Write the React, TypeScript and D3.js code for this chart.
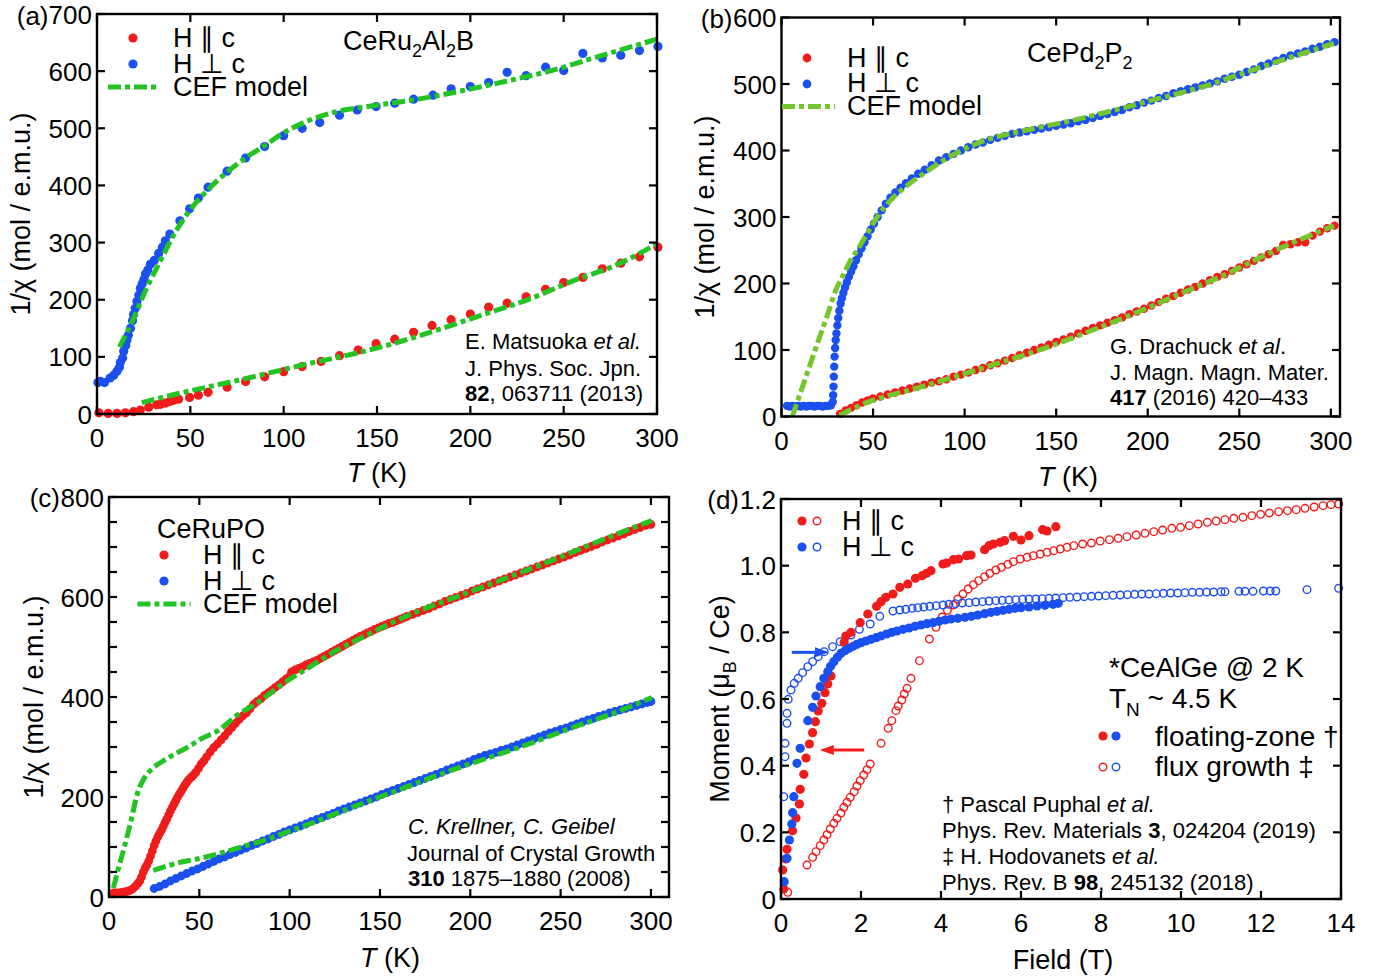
import React from 'react';
import * as d3 from 'd3';

type P = [number, number];

// ---------------- Panel (a) CeRu2Al2B ----------------
const A_PERP: P[] = [[0.5,55],[1.8,57],[4,55],[7,63],[9,68],[10.7,75],[12,82],[12.5,90],[13.7,98],[14.3,110],[15.4,120],[16,129],[16.8,138],[17.9,150],[19,163],[19.6,174],[20.5,185],[21.4,197],[22.4,208],[23.2,220],[24.2,228],[25.2,236],[26,245],[27.2,252],[28.6,262],[30.7,269],[33,281],[35,292],[36.6,303],[39,315],[44.4,338],[49.6,359],[54.3,378],[59.5,397],[69.7,425],[79.6,448],[89.8,468],[100,487],[109.9,500],[119.3,510],[129.9,523],[139.4,532],[149.5,538],[159.5,544],[169.6,551],[180,558],[189.7,569],[200,573],[209.8,580],[219.7,598],[229.9,592],[240.3,607],[250,601],[260.3,631],[270.7,623],[280.6,628],[290.6,636],[300.5,643]];
const A_PAR: P[] = [[1,2],[6,1],[10.7,1],[15.2,2],[19.6,4],[23.2,7],[27.7,12],[32,16],[34,17],[36.6,19],[39,22],[41,24],[43.7,26],[49.6,29],[54.3,33],[59.5,38],[69.7,47],[79.6,57],[89.8,65],[100,74],[109.9,83],[120,92],[129.9,102],[139.9,112],[149.5,123],[159.5,131],[169.6,143],[179.5,155],[189.7,165],[200,175],[209.8,187],[219.7,194],[229.9,205],[240.3,218],[250,230],[260.3,239],[270.7,254],[280.6,264],[290.6,275],[300.5,292]];
const A_CEF_PERP: P[] = [[12,117],[19,163],[26,216],[33,262],[42.5,321],[49.6,356],[59,391],[68.5,420],[80,449],[90,470],[99,490],[113,513],[127,528],[149,540],[172,551],[196,566],[220,583],[243.5,601],[267,624],[300,656]];
const A_CEF_PAR: P[] = [[24,20],[42.5,35],[66,52],[90,70],[113,88],[137,105],[160.6,125],[184,149],[208,175],[231.5,201],[255,233],[279,262],[300,298]];

// ---------------- Panel (b) CePd2P2 ----------------
const B_PERP: P[] = [[3,16],[4.5,15],[6,16],[7.5,15],[9,16],[10.5,15],[12,16],[13.5,15],[15,16],[16.5,16],[18,15],[19.5,16],[21,16],[22.5,15],[24,16],[25.5,16],[27,17],[28,22],[28.2,32],[28.4,45],[28.6,60],[28.8,75],[29,90],[29.3,103],[29.6,115],[30,125],[30.5,137],[31,148],[31.6,159],[32.3,170],[33,178],[33.8,186],[34.7,194],[35.7,202],[36.8,210],[38,218],[39.3,226],[40.7,235],[42.2,244],[43.7,253],[45.3,262],[47,271],[48.7,281],[50.5,290],[52.5,300],[54.7,310],[57,320],[59.5,329],[62.2,337],[65,344],[68,351],[71.2,358],[74.6,365],[78.2,371],[82,378],[86,385],[90,390],[94,395],[98,400],[102,405],[106,409],[110,412],[114,416],[118,419],[122,422],[126,425],[130,427],[134,429],[138,431],[142,433],[146,435],[150,437],[154,439],[158,441],[162,444],[166,446],[170,449],[174,452],[178,455],[182,458],[186,461],[190,465],[194,468],[198,472],[202,475],[206,479],[210,482],[214,486],[218,489],[222,492],[226,495],[230,498],[234,501],[238,504],[242,508],[246,511],[250,514],[254,518],[258,522],[262,527],[266,531],[270,535],[274,539],[278,543],[282,546],[286,549],[290,553],[294,556],[298,560],[302,563]];
const B_PAR: P[] = [[32,4],[35,9],[38,13],[41,17],[44,21],[47,24],[50,27],[54,30],[58,33],[62,36],[66,39],[70,42],[74,45],[78,48],[82,51],[86,53],[90,56],[94,60],[98,63],[102,66],[106,70],[110,73],[114,77],[118,80],[122,84],[126,88],[130,92],[134,96],[138,100],[142,104],[146,108],[150,112],[154,116],[158,120],[162,125],[166,129],[170,133],[174,137],[178,141],[182,145],[186,149],[190,154],[194,158],[198,162],[202,167],[206,172],[210,177],[214,181],[218,186],[222,191],[226,195],[230,200],[234,205],[238,210],[242,214],[246,219],[250,224],[254,229],[258,234],[262,239],[266,244],[270,249],[274,258],[278,259],[282,262],[286,262],[290,272],[294,278],[298,283],[302,287]];
const B_CEF_PERP: P[] = [[5.9,0],[10,33],[15,73],[20,113],[25,152],[29.8,191],[33.4,211],[38,236],[41.6,251],[47,276],[52.5,301],[59.8,326],[68.9,348],[78,366],[90.8,389],[108,412],[132.7,430],[157,444],[181,460],[205.7,478],[230,496],[254,518],[279,541],[301.7,561]];
const B_CEF_PAR: P[] = [[31.7,2],[47.5,22],[71.8,41],[96,61],[120.5,82],[145,104],[169,129],[193.6,156],[218,185],[242,213],[266.6,246],[301.7,287]];

// ---------------- Panel (c) CeRuPO ----------------
const C_PAR: P[] = [[2.5,8],[4,8],[5.5,8],[7,9],[8.5,10],[10,11],[11.5,13],[13,16],[14.5,21],[16,27],[17,32],[18,40],[19,50],[20,58],[21,64],[22,72],[23,82],[24,92],[25,103],[26,112],[27,120],[28,127],[29,133],[30,141],[31,149],[32,156],[33,164],[34,172],[35,179],[36,186],[37,193],[38,200],[39,206],[40,212],[41,218],[42,224],[43,229],[44,234],[45,238],[46,241],[47,245],[48,249],[49.5,257],[51,266],[52.5,272],[54,280],[56,290],[58,299],[60,306],[62,314],[64,322],[66,331],[68,339],[70,347],[72,355],[74,362],[76,368],[78,376],[80,385],[82,391],[84,396],[86,403],[88,408],[90,413],[92,419],[94,424],[96,430],[98,436],[100,441],[101,450],[103,454],[105,457],[107,460],[109,464],[111,467],[113,470],[115,473],[117,477],[119,481],[121,485],[123,489],[125,493],[127,497],[129,501],[131,505],[133,509],[135,513],[137,517],[139,521],[141,524],[143,528],[145,531],[147,535],[149,538],[151,541],[153,544],[155,547],[157,549],[159,552],[161,555],[163,558],[165,561],[168,565],[171,569],[174,573],[177,577],[180,582],[183,586],[186,591],[189,595],[192,599],[195,603],[198,607],[201,612],[204,616],[207,620],[210,624],[213,628],[216,632],[219,636],[222,640],[225,644],[228,648],[231,652],[234,656],[237,660],[240,664],[243,668],[246,672],[249,676],[252,680],[255,684],[258,689],[261,693],[264,697],[267,701],[270,705],[273,710],[276,714],[279,718],[282,722],[285,726],[288,731],[291,735],[294,739],[297,743],[300,745]];
const C_PERP: P[] = [[25,17],[28,21],[31,26],[34,32],[37,37],[40,42],[43,47],[46,52],[49,56],[52,61],[55,66],[58,71],[61,76],[64,80],[67,85],[70,89],[73,94],[76,98],[79,103],[82,107],[85,112],[88,116],[91,121],[94,125],[97,130],[100,134],[103,138],[106,142],[109,146],[112,151],[115,155],[118,159],[121,163],[124,167],[127,172],[130,176],[133,180],[136,184],[139,188],[142,192],[145,196],[148,200],[151,205],[154,209],[157,213],[160,217],[163,221],[166,225],[169,229],[172,233],[175,237],[178,241],[181,245],[184,249],[187,254],[190,258],[193,262],[196,266],[199,270],[202,275],[205,279],[208,283],[211,286],[214,289],[217,293],[220,296],[223,300],[226,304],[229,308],[232,312],[235,316],[238,320],[241,324],[244,328],[247,331],[250,335],[253,338],[256,342],[259,346],[262,350],[265,354],[268,357],[271,361],[274,364],[277,368],[280,371],[283,374],[286,377],[289,380],[292,383],[295,386],[298,389],[300,391]];
const C_CEF_PAR: P[] = [[2.4,18],[4.9,53],[8.5,100],[12.2,153],[15.8,208],[19.4,237],[24,257],[29.5,271],[36.9,287],[44.3,301],[49.8,314],[60.9,334],[71,364],[81.5,387],[96,426],[110.7,459],[125.3,492],[140,519],[154.5,545],[171.5,572],[195.9,605],[220,638],[244.5,672],[268.8,708],[300.5,753]];
const C_CEF_PERP: P[] = [[24.5,53],[36.9,67],[49.9,77],[62,88],[74.2,101],[86.4,114],[98.5,130],[110.7,146],[135,180],[159.4,213],[183.7,246],[208,276],[232.4,306],[256.7,339],[281,370],[300.5,399]];

// ---------------- Panel (d) CeAlGe ----------------
const D_PAR_FZ: P[] = [[0.04,0.087],[0.07,0.03],[0.12,0.12],[0.15,0.149],[0.29,0.205],[0.375,0.243],[0.46,0.285],[0.48,0.329],[0.57,0.374],[0.625,0.423],[0.71,0.465],[0.79,0.499],[0.86,0.532],[0.93,0.564],[1.02,0.587],[1.1,0.619],[1.17,0.645],[1.25,0.669],[1.58,0.77],[1.62,0.789],[1.75,0.8],[1.98,0.829],[2.17,0.855],[2.39,0.878],[2.5,0.892],[2.62,0.905],[2.8,0.915],[2.97,0.935],[3.17,0.945],[3.36,0.962],[3.53,0.97],[3.64,0.977],[3.75,0.985],[4.05,1.005],[4.14,1.008],[4.31,1.018],[4.44,1.02],[4.64,1.03],[4.75,1.032],[5.09,1.048],[5.2,1.06],[5.31,1.065],[5.48,1.07],[5.59,1.075],[5.81,1.088],[6.0,1.077],[6.2,1.09],[6.54,1.108],[6.65,1.104],[6.87,1.117]];
const D_PERP_FZ: P[] = [[0.08,0.052],[0.15,0.122],[0.21,0.177],[0.27,0.225],[0.29,0.259],[0.32,0.307],[0.4,0.407],[0.48,0.452],[0.67,0.535],[0.79,0.575],[0.875,0.609],[0.98,0.637],[1.07,0.662],[1.17,0.682],[1.24,0.698],[1.32,0.712],[1.41,0.725],[1.5,0.737],[1.6,0.745],[1.7,0.752],[1.8,0.758],[1.9,0.764],[2.0,0.769],[2.12,0.774],[2.25,0.779],[2.38,0.784],[2.5,0.789],[2.64,0.795],[2.77,0.8],[2.9,0.804],[3.05,0.809],[3.2,0.813],[3.35,0.818],[3.5,0.822],[3.65,0.826],[3.8,0.829],[3.95,0.833],[4.1,0.837],[4.25,0.84],[4.42,0.842],[4.6,0.845],[4.76,0.848],[4.92,0.852],[5.09,0.856],[5.25,0.86],[5.4,0.863],[5.55,0.866],[5.7,0.869],[5.85,0.872],[6.0,0.874],[6.2,0.876],[6.4,0.879],[6.6,0.881],[6.8,0.884],[6.93,0.887]];
const D_PERP_FLUX: P[] = [[0.07,0.307],[0.1,0.427],[0.1,0.467],[0.15,0.527],[0.15,0.557],[0.18,0.599],[0.25,0.627],[0.33,0.647],[0.43,0.662],[0.54,0.679],[0.67,0.697],[0.79,0.712],[0.93,0.727],[1.08,0.742],[1.29,0.757],[1.48,0.772],[1.75,0.792],[1.96,0.809],[2.23,0.825],[2.47,0.848],[2.8,0.864],[2.97,0.867],[3.12,0.869],[3.28,0.872],[3.42,0.874],[3.57,0.876],[3.72,0.878],[3.88,0.88],[4.05,0.882],[4.2,0.884],[4.36,0.886],[4.53,0.888],[4.7,0.889],[4.87,0.891],[5.04,0.892],[5.2,0.894],[5.37,0.895],[5.53,0.896],[5.7,0.897],[5.87,0.898],[6.04,0.899],[6.2,0.9],[6.37,0.9],[6.53,0.901],[6.7,0.902],[6.87,0.903],[7.05,0.904],[7.22,0.905],[7.4,0.906],[7.58,0.907],[7.76,0.908],[7.94,0.909],[8.12,0.91],[8.3,0.911],[8.48,0.912],[8.66,0.913],[8.84,0.914],[9.02,0.915],[9.2,0.915],[9.38,0.916],[9.56,0.917],[9.74,0.918],[9.92,0.918],[10.1,0.919],[10.28,0.92],[10.46,0.92],[10.64,0.921],[10.82,0.921],[11.0,0.922],[11.1,0.922],[11.45,0.923],[11.6,0.923],[11.8,0.923],[12.06,0.924],[12.23,0.924],[12.37,0.924],[13.15,0.928],[13.94,0.932]];
const D_PAR_FLUX: P[] = [[0.17,0.02],[0.65,0.102],[0.79,0.125],[0.875,0.142],[0.98,0.16],[1.07,0.177],[1.15,0.193],[1.23,0.21],[1.32,0.227],[1.4,0.242],[1.5,0.258],[1.57,0.275],[1.65,0.29],[1.73,0.305],[1.83,0.322],[1.9,0.339],[1.98,0.355],[2.07,0.372],[2.15,0.388],[2.23,0.405],[2.5,0.467],[2.68,0.512],[2.77,0.535],[2.875,0.565],[2.93,0.579],[3.02,0.597],[3.08,0.615],[3.15,0.632],[3.25,0.662],[3.46,0.715],[3.71,0.78],[3.875,0.815],[4.03,0.846],[4.16,0.866],[4.31,0.882],[4.42,0.9],[4.55,0.915],[4.68,0.93],[4.81,0.943],[4.94,0.955],[5.09,0.967],[5.22,0.977],[5.37,0.987],[5.51,0.995],[5.67,1.004],[5.81,1.012],[5.98,1.02],[6.15,1.025],[6.31,1.03],[6.48,1.035],[6.65,1.04],[6.82,1.045],[6.98,1.05],[7.15,1.055],[7.32,1.06],[7.54,1.065],[7.76,1.068],[7.98,1.074],[8.21,1.078],[8.43,1.082],[8.65,1.087],[8.88,1.092],[9.1,1.097],[9.32,1.102],[9.54,1.107],[9.77,1.112],[9.99,1.115],[10.21,1.12],[10.43,1.125],[10.66,1.13],[10.88,1.134],[11.1,1.138],[11.32,1.142],[11.55,1.145],[11.77,1.15],[11.99,1.154],[12.21,1.158],[12.44,1.162],[12.66,1.165],[12.88,1.168],[13.1,1.172],[13.33,1.176],[13.55,1.18],[13.75,1.183],[13.94,1.185]];

// ---------------- ticks ----------------
const T_TICKS = [0, 50, 100, 150, 200, 250, 300];
const A_Y_TICKS = [0, 100, 200, 300, 400, 500, 600, 700];
const B_Y_TICKS = [0, 100, 200, 300, 400, 500, 600];
const C_Y_TICKS = [0, 200, 400, 600, 800];
const C_Y_MINOR = [50, 100, 150, 250, 300, 350, 450, 500, 550, 650, 700, 750];
const D_X_TICKS = [0, 2, 4, 6, 8, 10, 12, 14];
const D_Y_TICKS = [0, 0.2, 0.4, 0.6, 0.8, 1.0, 1.2];

const FONT = '"Liberation Sans", Arial, Helvetica, sans-serif';
const RED = '#f01c1c';
const BLUE = '#1a4ff0';
const GREEN = '#22c322';
const LIME = '#74c62a';

type Sc = d3.ScaleLinear<number, number>;

function Axes(props: {
  x: Sc; y: Sc; box: [number, number, number, number];
  xTicks: number[]; yTicks: number[]; yMinor?: number[];
  fmtX?: (v: number) => string; fmtY?: (v: number) => string;
}) {
  const { x, y, box, xTicks, yTicks } = props;
  const yMinor = props.yMinor || [];
  const fmtX = props.fmtX || ((v: number) => String(v));
  const fmtY = props.fmtY || ((v: number) => String(v));
  const [l, t, r, b] = box;
  const tl = 8;
  const sw = 2.2;
  return (
    <g>
      {xTicks.map((v) => (
        <g key={'x' + v}>
          <line x1={x(v)} x2={x(v)} y1={b} y2={b - tl} stroke="#000" strokeWidth={sw} />
          <line x1={x(v)} x2={x(v)} y1={t} y2={t + tl} stroke="#000" strokeWidth={sw} />
          <text x={x(v)} y={b + 33} fontSize={26} textAnchor="middle">{fmtX(v)}</text>
        </g>
      ))}
      {yTicks.map((v) => (
        <g key={'y' + v}>
          <line x1={l} x2={l + tl} y1={y(v)} y2={y(v)} stroke="#000" strokeWidth={sw} />
          <line x1={r} x2={r - tl} y1={y(v)} y2={y(v)} stroke="#000" strokeWidth={sw} />
          <text x={l - 5} y={y(v) + 9.5} fontSize={26} textAnchor="end">{fmtY(v)}</text>
        </g>
      ))}
      {yMinor.map((v) => (
        <g key={'ym' + v}>
          <line x1={l} x2={l + tl} y1={y(v)} y2={y(v)} stroke="#000" strokeWidth={sw} />
          <line x1={r} x2={r - tl} y1={y(v)} y2={y(v)} stroke="#000" strokeWidth={sw} />
        </g>
      ))}
      <rect x={l} y={t} width={r - l} height={b - t} fill="none" stroke="#000" strokeWidth={2.4} />
    </g>
  );
}

function Dots(props: { data: P[]; x: Sc; y: Sc; r: number; color: string; open?: boolean }) {
  const { data, x, y, r, color, open } = props;
  return (
    <g>
      {data.map((d, i) => (
        <circle key={i} cx={x(d[0])} cy={y(d[1])} r={r}
          fill={open ? 'none' : color} stroke={open ? color : 'none'} strokeWidth={open ? 1.4 : 0} />
      ))}
    </g>
  );
}

function Cef(props: { data: P[]; x: Sc; y: Sc; color: string }) {
  const { data, x, y, color } = props;
  const gen = d3.line<P>().x((d) => x(d[0])).y((d) => y(d[1])).curve(d3.curveMonotoneX);
  return <path d={gen(data) || ''} fill="none" stroke={color} strokeWidth={5} strokeDasharray="13 4 5 4" />;
}

function LegendLine(props: { x1: number; x2: number; y: number; color: string }) {
  return <line x1={props.x1} x2={props.x2} y1={props.y} y2={props.y} stroke={props.color} strokeWidth={5} strokeDasharray="13 4 5 4" />;
}

function YTitle(props: { x: number; y: number }) {
  return (
    <text transform={`translate(${props.x},${props.y}) rotate(-90)`} fontSize={27} textAnchor="middle">
      1/χ (mol / e.m.u.)
    </text>
  );
}

function TTitle(props: { x: number; y: number }) {
  return (
    <text x={props.x} y={props.y} fontSize={27} textAnchor="middle">
      <tspan fontStyle="italic">T</tspan> (K)
    </text>
  );
}

function PanelA() {
  const box: [number, number, number, number] = [97, 14, 657, 414];
  const x = d3.scaleLinear().domain([0, 300]).range([97, 657]);
  const y = d3.scaleLinear().domain([0, 700]).range([414, 14]);
  return (
    <g>
      <Dots data={A_PERP} x={x} y={y} r={4.6} color={BLUE} />
      <Dots data={A_PAR} x={x} y={y} r={4.6} color={RED} />
      <Cef data={A_CEF_PERP} x={x} y={y} color={GREEN} />
      <Cef data={A_CEF_PAR} x={x} y={y} color={GREEN} />
      <Axes x={x} y={y} box={box} xTicks={T_TICKS} yTicks={A_Y_TICKS} />
      <text x={48.5} y={25} fontSize={26} textAnchor="end">(a)</text>
      <circle cx={133} cy={38} r={4.6} fill={RED} />
      <circle cx={133} cy={64} r={4.6} fill={BLUE} />
      <LegendLine x1={108} x2={160} y={87} color={GREEN} />
      <text x={173} y={47} fontSize={27}>H ∥ c</text>
      <text x={173} y={73} fontSize={27}>H ⊥ c</text>
      <text x={173} y={96} fontSize={27}>CEF model</text>
      <text x={343} y={50} fontSize={27}>CeRu<tspan dy={7} fontSize={18}>2</tspan><tspan dy={-7}>Al</tspan><tspan dy={7} fontSize={18}>2</tspan><tspan dy={-7}>B</tspan></text>
      <text x={465} y={349} fontSize={22}>E. Matsuoka <tspan fontStyle="italic">et al.</tspan></text>
      <text x={465} y={375.5} fontSize={22}>J. Phys. Soc. Jpn.</text>
      <text x={465} y={400.5} fontSize={22}><tspan fontWeight="bold">82</tspan>, 063711 (2013)</text>
      <YTitle x={30} y={214} />
      <TTitle x={377} y={482} />
    </g>
  );
}

function PanelB() {
  const box: [number, number, number, number] = [781.5, 17.5, 1340, 416.5];
  const x = d3.scaleLinear().domain([0, 305]).range([781.5, 1340]);
  const y = d3.scaleLinear().domain([0, 600]).range([416.5, 17.5]);
  return (
    <g>
      <Dots data={B_PERP} x={x} y={y} r={4.2} color={BLUE} />
      <Dots data={B_PAR} x={x} y={y} r={4.2} color={RED} />
      <Cef data={B_CEF_PERP} x={x} y={y} color={LIME} />
      <Cef data={B_CEF_PAR} x={x} y={y} color={LIME} />
      <Axes x={x} y={y} box={box} xTicks={T_TICKS} yTicks={B_Y_TICKS} />
      <text x={732.5} y={28} fontSize={26} textAnchor="end">(b)</text>
      <circle cx={807} cy={58} r={4.4} fill={RED} />
      <circle cx={807} cy={84} r={4.4} fill={BLUE} />
      <LegendLine x1={782} x2={835} y={106.5} color={LIME} />
      <text x={847} y={66.5} fontSize={27}>H ∥ c</text>
      <text x={847} y={92} fontSize={27}>H ⊥ c</text>
      <text x={847} y={114.5} fontSize={27}>CEF model</text>
      <text x={1027} y={61.5} fontSize={27}>CePd<tspan dy={7} fontSize={18}>2</tspan><tspan dy={-7}>P</tspan><tspan dy={7} fontSize={18}>2</tspan></text>
      <text x={1110} y={353.5} fontSize={22}>G. Drachuck <tspan fontStyle="italic">et al</tspan>.</text>
      <text x={1110} y={380} fontSize={22}>J. Magn. Magn. Mater.</text>
      <text x={1110} y={405} fontSize={22}><tspan fontWeight="bold">417</tspan> (2016) 420–433</text>
      <YTitle x={714} y={217} />
      <TTitle x={1068} y={486} />
    </g>
  );
}

function PanelC() {
  const box: [number, number, number, number] = [109, 497, 669, 897];
  const x = d3.scaleLinear().domain([0, 310]).range([109, 669]);
  const y = d3.scaleLinear().domain([0, 800]).range([897, 497]);
  return (
    <g>
      <Dots data={C_PAR} x={x} y={y} r={4.4} color={RED} />
      <Dots data={C_PERP} x={x} y={y} r={4.4} color={BLUE} />
      <Cef data={C_CEF_PAR} x={x} y={y} color={GREEN} />
      <Cef data={C_CEF_PERP} x={x} y={y} color={GREEN} />
      <Axes x={x} y={y} box={box} xTicks={T_TICKS} yTicks={C_Y_TICKS} yMinor={C_Y_MINOR} />
      <text x={60} y={507} fontSize={26} textAnchor="end">(c)</text>
      <text x={157} y={538} fontSize={27}>CeRuPO</text>
      <circle cx={164} cy={555} r={4.6} fill={RED} />
      <circle cx={164} cy={581} r={4.6} fill={BLUE} />
      <LegendLine x1={137.5} x2={190.5} y={604} color={GREEN} />
      <text x={203} y={564} fontSize={27}>H ∥ c</text>
      <text x={203} y={589.5} fontSize={27}>H ⊥ c</text>
      <text x={203} y={613} fontSize={27}>CEF model</text>
      <text x={408} y={834} fontSize={22} fontStyle="italic">C. Krellner, C. Geibel</text>
      <text x={407} y={860.5} fontSize={22}>Journal of Crystal Growth</text>
      <text x={408} y={885.5} fontSize={22}><tspan fontWeight="bold">310</tspan> 1875–1880 (2008)</text>
      <YTitle x={43} y={697} />
      <TTitle x={390} y={967} />
    </g>
  );
}

function Arrow(props: { x1: number; x2: number; y: number; color: string }) {
  const { x1, x2, y, color } = props;
  const dir = x2 > x1 ? 1 : -1;
  const hl = 14;
  const hw = 5;
  const base = x2 - dir * hl;
  return (
    <g>
      <line x1={x1} x2={base} y1={y} y2={y} stroke={color} strokeWidth={3} />
      <polygon points={`${x2},${y} ${base},${y - hw} ${base},${y + hw}`} fill={color} />
    </g>
  );
}

function PanelD() {
  const box: [number, number, number, number] = [781, 499, 1341, 899];
  const x = d3.scaleLinear().domain([0, 14]).range([781, 1341]);
  const y = d3.scaleLinear().domain([0, 1.2]).range([899, 499]);
  const fmtY = (v: number) => (v === 0 ? '0' : d3.format('.1f')(v));
  return (
    <g>
      <Dots data={D_PAR_FLUX} x={x} y={y} r={3.8} color={RED} open />
      <Dots data={D_PERP_FLUX} x={x} y={y} r={3.8} color={BLUE} open />
      <Dots data={D_PAR_FZ} x={x} y={y} r={4.6} color={RED} />
      <Dots data={D_PERP_FZ} x={x} y={y} r={4.6} color={BLUE} />
      <Arrow x1={x(0.27)} x2={x(1.2)} y={y(0.74)} color={BLUE} />
      <Arrow x1={x(2.08)} x2={x(0.97)} y={y(0.447)} color={RED} />
      <Axes x={x} y={y} box={box} xTicks={D_X_TICKS} yTicks={D_Y_TICKS} fmtY={fmtY} />
      <text x={739} y={509} fontSize={26} textAnchor="end">(d)</text>
      <circle cx={802} cy={521} r={4.6} fill={RED} />
      <circle cx={817} cy={521} r={3.8} fill="none" stroke={RED} strokeWidth={1.4} />
      <circle cx={802} cy={547} r={4.6} fill={BLUE} />
      <circle cx={817} cy={547} r={3.8} fill="none" stroke={BLUE} strokeWidth={1.4} />
      <text x={842} y={529.5} fontSize={27}>H ∥ c</text>
      <text x={842} y={556} fontSize={27}>H ⊥ c</text>
      <text x={1109} y={677} fontSize={28}>*CeAlGe @ 2 K</text>
      <text x={1109} y={708} fontSize={28}>T<tspan dy={8} fontSize={19}>N</tspan><tspan dy={-8}> ~ 4.5 K</tspan></text>
      <circle cx={1103} cy={736} r={4.6} fill={RED} />
      <circle cx={1116} cy={736} r={4.6} fill={BLUE} />
      <circle cx={1103} cy={767} r={3.8} fill="none" stroke={RED} strokeWidth={1.4} />
      <circle cx={1116} cy={767} r={3.8} fill="none" stroke={BLUE} strokeWidth={1.4} />
      <text x={1155} y={746} fontSize={28}>floating-zone †</text>
      <text x={1155} y={776} fontSize={28}>flux growth ‡</text>
      <text x={942} y={812} fontSize={22}>† Pascal Puphal <tspan fontStyle="italic">et al.</tspan></text>
      <text x={942} y={838} fontSize={22}>Phys. Rev. Materials <tspan fontWeight="bold">3</tspan>, 024204 (2019)</text>
      <text x={942} y={864} fontSize={22}>‡ H. Hodovanets <tspan fontStyle="italic">et al.</tspan></text>
      <text x={942} y={890} fontSize={22}>Phys. Rev. B <tspan fontWeight="bold">98</tspan>, 245132 (2018)</text>
      <text transform="translate(729,699) rotate(-90)" fontSize={27} textAnchor="middle">
        Moment (μ<tspan dy={7} fontSize={18}>B</tspan><tspan dy={-7}> / Ce)</tspan>
      </text>
      <text x={1063} y={969} fontSize={27} textAnchor="middle">Field (T)</text>
    </g>
  );
}

export default function App() {
  return (
    <svg width={1390} height={980} viewBox="0 0 1390 980"
      style={{ position: 'absolute', left: 0, top: 0, display: 'block', background: '#fff' }}
      fontFamily={FONT}>
      <rect x={0} y={0} width={1390} height={980} fill="#fff" />
      <PanelA />
      <PanelB />
      <PanelC />
      <PanelD />
    </svg>
  );
}
